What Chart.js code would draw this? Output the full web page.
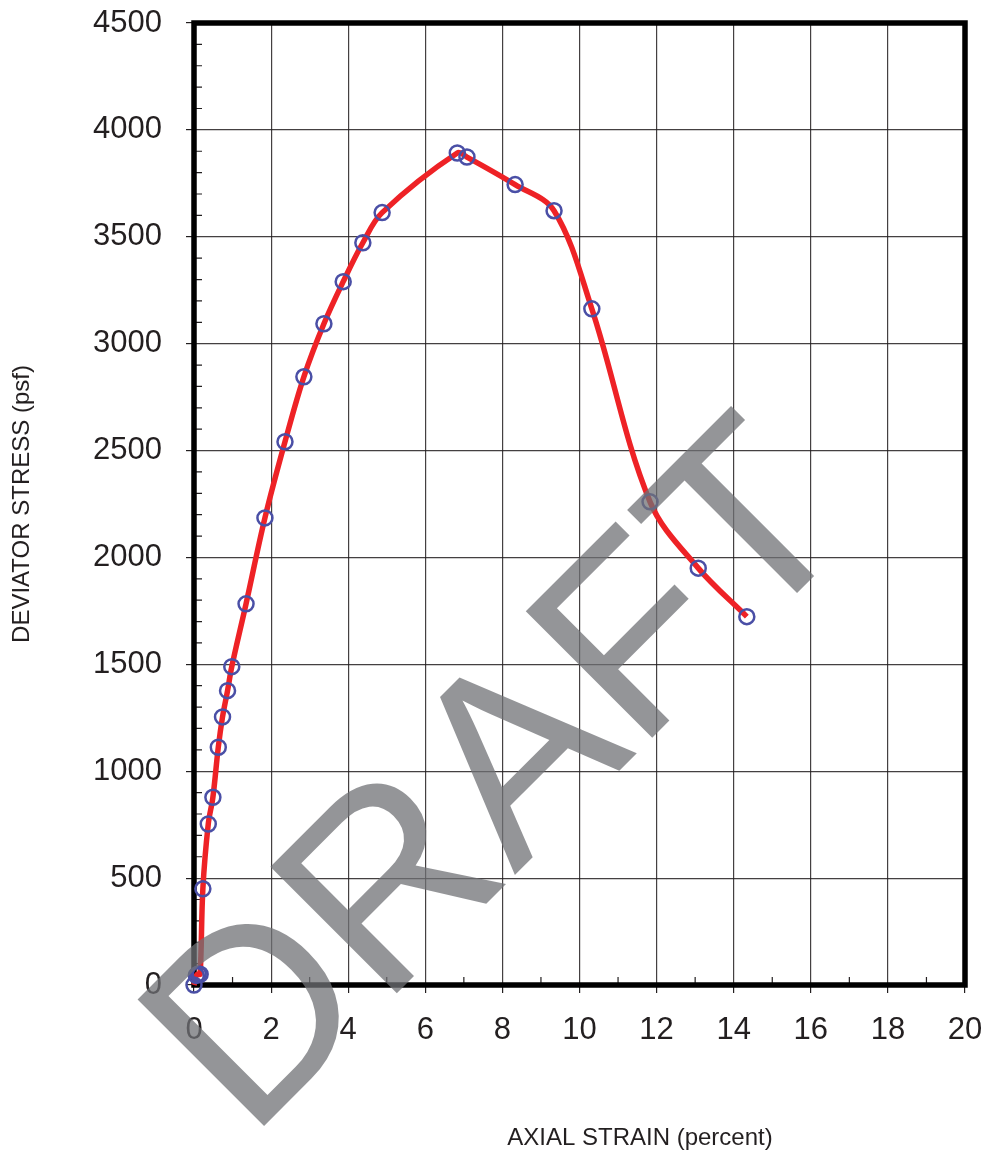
<!DOCTYPE html>
<html>
<head>
<meta charset="utf-8">
<title>Deviator stress vs axial strain</title>
<script src="https://cdn.jsdelivr.net/npm/chart.js@4.4.1/dist/chart.umd.min.js"></script>
<style>
    html, body { margin: 0; padding: 0; background: #fff; }
    canvas { display: block; }
</style>
</head>
<body>
<canvas id="stressChart" width="987" height="1155"></canvas>
<script>
// values
const strainPct = [0, 0.06, 0.11, 0.16, 0.23, 0.37, 0.49, 0.63, 0.74, 0.87, 0.98, 1.35, 1.84, 2.36, 2.85, 3.37, 3.87, 4.38, 4.88, 6.83, 7.08, 8.33, 9.34, 10.32, 11.83, 13.08, 14.34]
const deviatorStress = [0, 45, 52, 50, 450, 753, 878, 1112, 1254, 1377, 1489, 1783, 2185, 2541, 2845, 3093, 3290, 3472, 3613, 3892, 3873, 3744, 3622, 3163, 2260, 1950, 1723]
const xRange = [0, 20]
const yRange = [0, 4500]
const xTitle = `AXIAL STRAIN (percent)`
const yTitle = `DEVIATOR STRESS (psf)`
const watermark = `DRAFT`
//
const ink = `#231f20`
const fontFamily = `"Liberation Sans", Arial, Helvetica, sans-serif`
const points = strainPct.map((x, i) => ({ x: x, y: deviatorStress[i] }))

// kill the automatic label overhang so the plot box lands where it should
function noOverhang(scale) {
    scale.paddingTop = 0
    scale.paddingBottom = 0
    scale.paddingLeft = 0
    scale.paddingRight = 0
}

// frame + small inside ticks, drawn under the curve
const framePlugin = {
    id: `frame`,
    beforeDatasetsDraw(chart) {
        const { ctx, chartArea: a, scales } = chart
        ctx.save()
        ctx.strokeStyle = ink
        ctx.lineWidth = 1.2
        ctx.beginPath()
        for (let v = xRange[0] + 1; v < xRange[1]; v += 2) {
            const px = scales.x.getPixelForValue(v)
            ctx.moveTo(px, a.bottom)
            ctx.lineTo(px, a.bottom - 8)
        }
        for (let v = yRange[0] + 100; v < yRange[1]; v += 100) {
            if (v % 500 === 0) continue
            const py = scales.y.getPixelForValue(v)
            ctx.moveTo(a.left, py)
            ctx.lineTo(a.left + 8, py)
        }
        ctx.stroke()
        ctx.lineWidth = 5.5
        ctx.strokeStyle = `#000`
        ctx.strokeRect(a.left, a.top, a.right - a.left, a.bottom - a.top)
        ctx.restore()
    }
}

// x title sits off-centre in the original, then the watermark on top of everything
const overlayPlugin = {
    id: `overlay`,
    afterDraw(chart) {
        const { ctx } = chart
        ctx.save()
        ctx.fillStyle = ink
        ctx.font = `24px ${fontFamily}`
        ctx.textAlign = `center`
        ctx.textBaseline = `middle`
        ctx.fillText(xTitle, 640, 1138)
        //
        ctx.translate(249, 1141)
        ctx.rotate(-Math.PI / 4)
        ctx.font = `260px ${fontFamily}`
        ctx.textAlign = `left`
        ctx.textBaseline = `alphabetic`
        ctx.fillStyle = `rgba(112, 113, 118, 0.75)`
        ctx.fillText(watermark, 0, 0)
        ctx.restore()
    }
}

new Chart(`stressChart`, {
    type: `scatter`,
    data: {
        datasets: [{
            data: points,
            showLine: true,
            tension: 0.35,
            borderColor: `#ee2226`,
            borderWidth: 5.5,
            pointRadius: 7.5,
            pointBorderWidth: 2.5,
            pointBorderColor: `#4a4fa6`,
            pointBackgroundColor: `rgba(0,0,0,0)`,
            clip: false
        }]
    },
    options: {
        responsive: false,
        animation: false,
        layout: { padding: { top: 23, right: 22, left: 0, bottom: 0 } },
        plugins: {
            legend: { display: false },
            tooltip: { enabled: false }
        },
        scales: {
            x: {
                type: `linear`,
                min: xRange[0],
                max: xRange[1],
                afterFit: scale => { scale.height = 170; noOverhang(scale) },
                border: { display: false },
                grid: { color: `rgba(35,31,32,0.85)`, lineWidth: 1.2, tickLength: 8, tickColor: ink },
                ticks: {
                    stepSize: 2,
                    maxRotation: 0,
                    autoSkip: false,
                    padding: 19,
                    color: ink,
                    callback: v => String(v),
                    font: { family: fontFamily, size: 31 }
                }
            },
            y: {
                type: `linear`,
                min: yRange[0],
                max: yRange[1],
                afterFit: scale => { scale.width = 194; noOverhang(scale) },
                border: { display: false },
                grid: { color: `rgba(35,31,32,0.85)`, lineWidth: 1.2, tickLength: 8, tickColor: ink },
                ticks: {
                    stepSize: 500,
                    padding: 24,
                    color: ink,
                    callback: v => String(v),
                    font: { family: fontFamily, size: 31 }
                },
                title: {
                    display: true,
                    text: yTitle,
                    color: ink,
                    padding: { top: 8, bottom: 0 },
                    font: { family: fontFamily, size: 24 }
                }
            }
        }
    },
    plugins: [framePlugin, overlayPlugin]
});
</script>
</body>
</html>
